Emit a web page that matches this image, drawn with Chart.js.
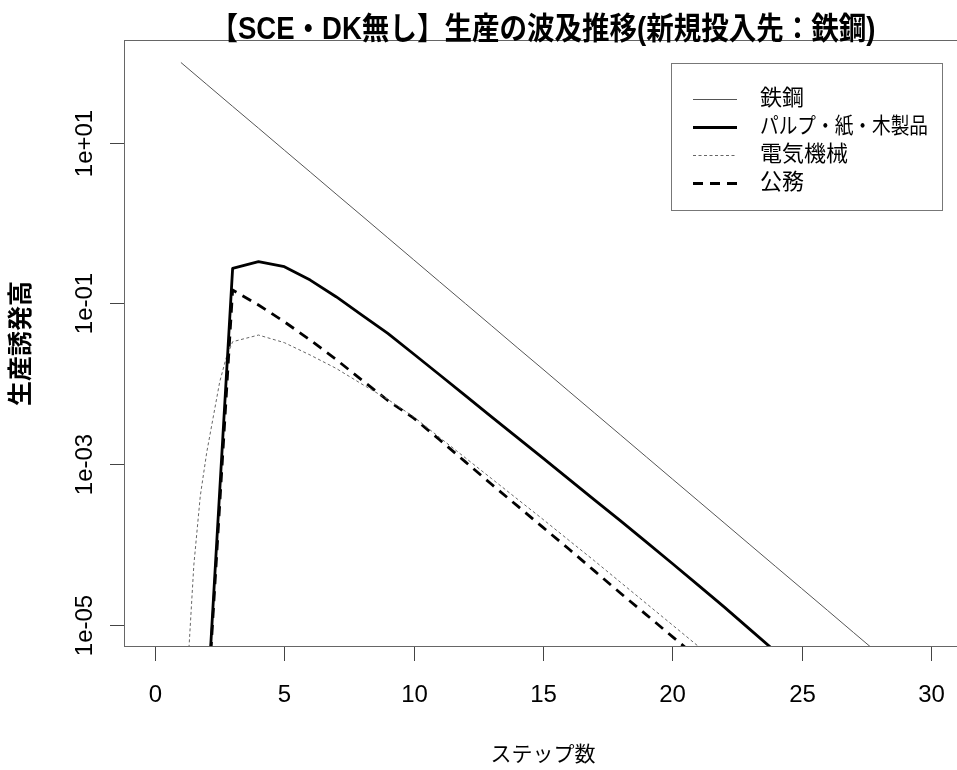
<!DOCTYPE html>
<html lang="ja">
<head>
<meta charset="utf-8">
<title>生産の波及推移</title>
<script src="https://cdn.jsdelivr.net/npm/chart.js@4"></script>
<style>
    html, body { margin: 0; padding: 0; background: #fff; overflow: hidden; }
    #wrap { width: 962px; height: 770px; }
</style>
</head>
<body>
<div id="wrap"><canvas id="waveChart" width="962" height="770"></canvas></div>
<script>
/* --- Data --- */
const steps = [1, 2, 3, 4, 5, 6, 7, 8, 9, 10, 11, 12, 13, 14, 15,
               16, 17, 18, 19, 20, 21, 22, 23, 24, 25, 26, 27, 28, 29, 30];

const steelValues = [100, 53.3, 28.4, 15.2, 8.09, 4.32, 2.30, 1.23, 0.655, 0.349,
    0.186, 0.0993, 0.0530, 0.0282, 0.0151, 0.00804, 0.00429, 0.00229, 0.00122, 6.50e-4,
    3.47e-4, 1.85e-4, 9.86e-5, 5.26e-5, 2.81e-5, 1.50e-5, 7.98e-6, 4.26e-6, 2.27e-6, 1.21e-6];

const pulpValues = [null, 7.7e-7, 0.273, 0.330, 0.286, 0.195, 0.121, 0.0715, 0.0423, 0.0234,
    0.0129, 0.00708, 0.00389, 0.00214, 0.00118, 6.46e-4, 3.55e-4, 1.95e-4, 1.06e-4, 5.75e-5,
    3.09e-5, 1.66e-5, 8.71e-6, 4.57e-6, 2.4e-6, 1.26e-6, 6.6e-7, 3.5e-7, 1.8e-7, 9.6e-8];

// electric machinery rises on a curve before step 3, so it keeps its own x list
const elecSteps = [1, 1.5, 1.75, 2, 2.25, 2.5, 2.75, 3, 4, 5, 6, 7, 8, 9, 10,
    11, 12, 13, 14, 15, 16, 17, 18, 19, 20, 21, 22, 23, 24, 25];
const elecValues = [1e-7, 5.5e-5, 4.0e-4, 1.40e-3, 3.83e-3, 0.0105, 0.0209, 0.0333, 0.0403, 0.0324,
    0.0227, 0.0155, 0.00986, 0.00637, 0.00386, 0.00214, 0.00119, 6.61e-4, 3.67e-4, 2.04e-4,
    1.12e-4, 6.17e-5, 3.35e-5, 1.82e-5, 9.89e-6, 5.37e-6, 2.88e-6, 1.55e-6, 8.3e-7, 4.5e-7];

const publicValues = [null, 6.5e-7, 0.1466, 0.0953, 0.059, 0.0349, 0.0200, 0.01106, 0.00617, 0.00372,
    0.00200, 0.00106, 5.62e-4, 3.02e-4, 1.62e-4, 8.71e-5, 4.62e-5, 2.45e-5, 1.32e-5, 7.08e-6,
    3.80e-6, 2.04e-6, 1.1e-6, 5.9e-7, 3.2e-7, 1.7e-7, 9e-8, 5e-8, 2.7e-8, 1.4e-8];

const seriesNames = ['鉄鋼', 'パルプ・紙・木製品', '電気機械', '公務'];
const xTicks = [0, 5, 10, 15, 20, 25, 30];
const yTicks = [1e-5, 1e-3, 1e-1, 1e1];
const yTickLabels = ['1e-05', '1e-03', '1e-01', '1e+01'];

const titleText = '【SCE・DK無し】生産の波及推移(新規投入先：鉄鋼)';
const xTitle = 'ステップ数';
const yTitle = '生産誘発高';

/* --- Helpers --- */
const LATIN = '"Liberation Sans", Arial, sans-serif';
const JP = '"Liberation Sans", "Noto Sans CJK JP", sans-serif';

function toPoints(xs, ys) {
    return xs.map((x, i) => ({ x: x, y: ys[i] }));
}

/* --- R style frame, ticks, titles and legend --- */
const rFrame = {
    id: 'rFrame',
    afterDraw(chart) {
        const { ctx, chartArea: a, scales } = chart;
        const xs = scales.x, ys = scales.y;
        ctx.save();

        // plot box
        ctx.strokeStyle = '#666';
        ctx.lineWidth = 1;
        ctx.strokeRect(Math.round(a.left) + 0.5, Math.round(a.top) + 0.5,
            Math.round(a.right - a.left), Math.round(a.bottom - a.top) - 1);

        // x axis ticks + labels
        ctx.strokeStyle = '#444';
        ctx.fillStyle = '#000';
        ctx.font = '24px ' + LATIN;
        ctx.textAlign = 'center';
        ctx.textBaseline = 'middle';
        xTicks.forEach(v => {
            const px = Math.round(xs.getPixelForValue(v)) + 0.5;
            ctx.beginPath();
            ctx.moveTo(px, a.bottom);
            ctx.lineTo(px, a.bottom + 14);
            ctx.stroke();
            ctx.fillText(String(v), px, 695);
        });

        // y axis ticks + rotated labels
        yTicks.forEach((v, i) => {
            const py = Math.round(ys.getPixelForValue(v)) + 0.5;
            ctx.beginPath();
            ctx.moveTo(a.left - 14, py);
            ctx.lineTo(a.left, py);
            ctx.stroke();
            ctx.save();
            ctx.translate(85, py);
            ctx.rotate(-Math.PI / 2);
            ctx.fillText(yTickLabels[i], 0, 0);
            ctx.restore();
        });

        // main title, narrow like the reference
        const cx = (a.left + a.right) / 2;
        ctx.font = 'bold 31px ' + JP;
        ctx.fillText(titleText, cx, 30, 665);

        // axis titles
        ctx.font = '21px ' + JP;
        ctx.fillText(xTitle, cx, 755);
        ctx.save();
        ctx.translate(22.5, (a.top + a.bottom) / 2);
        ctx.rotate(-Math.PI / 2);
        ctx.font = 'bold 25px ' + JP;
        ctx.fillText(yTitle, 0, 0);
        ctx.restore();

        // legend
        ctx.strokeStyle = '#777';
        ctx.lineWidth = 1;
        ctx.strokeRect(671.5, 63.5, 271, 147);
        ctx.font = '22px ' + JP;
        ctx.textAlign = 'left';
        chart.data.datasets.forEach((ds, i) => {
            const y = 98.5 + i * 28.2;
            ctx.beginPath();
            ctx.strokeStyle = ds.borderColor;
            ctx.lineWidth = ds.borderWidth;
            ctx.setLineDash(ds.borderDash || []);
            ctx.moveTo(693, Math.round(y) + 0.5);
            ctx.lineTo(737, Math.round(y) + 0.5);
            ctx.stroke();
            ctx.setLineDash([]);
            ctx.fillStyle = '#000';
            ctx.fillText(ds.label, 760, y, 168);
        });

        ctx.restore();
    }
};

/* --- Chart.js Setup --- */
function initChart() {
    const ctx = document.getElementById('waveChart').getContext('2d');

    new Chart(ctx, {
        type: 'line',
        data: {
            datasets: [
                {
                    label: seriesNames[0],
                    data: toPoints(steps, steelValues),
                    borderColor: '#555',
                    borderWidth: 1
                },
                {
                    label: seriesNames[1],
                    data: toPoints(steps, pulpValues),
                    borderColor: '#000',
                    borderWidth: 2.8
                },
                {
                    label: seriesNames[2],
                    data: toPoints(elecSteps, elecValues),
                    borderColor: '#666',
                    borderWidth: 1,
                    borderDash: [3, 2.5]
                },
                {
                    label: seriesNames[3],
                    data: toPoints(steps, publicValues),
                    borderColor: '#000',
                    borderWidth: 2.8,
                    borderDash: [10, 7]
                }
            ]
        },
        options: {
            responsive: false,
            animation: false,
            parsing: false,
            spanGaps: false,
            elements: {
                point: { radius: 0 },
                line: { tension: 0, borderCapStyle: 'butt', borderJoinStyle: 'round' }
            },
            layout: { padding: { top: 40, right: 0, bottom: 0, left: 0 } },
            scales: {
                x: {
                    type: 'linear',
                    min: -1.2,
                    max: 31.2,
                    grid: { display: false },
                    border: { display: false },
                    ticks: { display: false },
                    afterFit: s => { s.height = 123; }
                },
                y: {
                    type: 'logarithmic',
                    min: Math.pow(10, -5.28),
                    max: Math.pow(10, 2.28),
                    grid: { display: false },
                    border: { display: false },
                    ticks: { display: false },
                    afterFit: s => { s.width = 124; }
                }
            },
            plugins: {
                legend: { display: false },
                title: { display: false },
                tooltip: { enabled: false }
            }
        },
        plugins: [rFrame]
    });
}

initChart();
</script>
</body>
</html>
